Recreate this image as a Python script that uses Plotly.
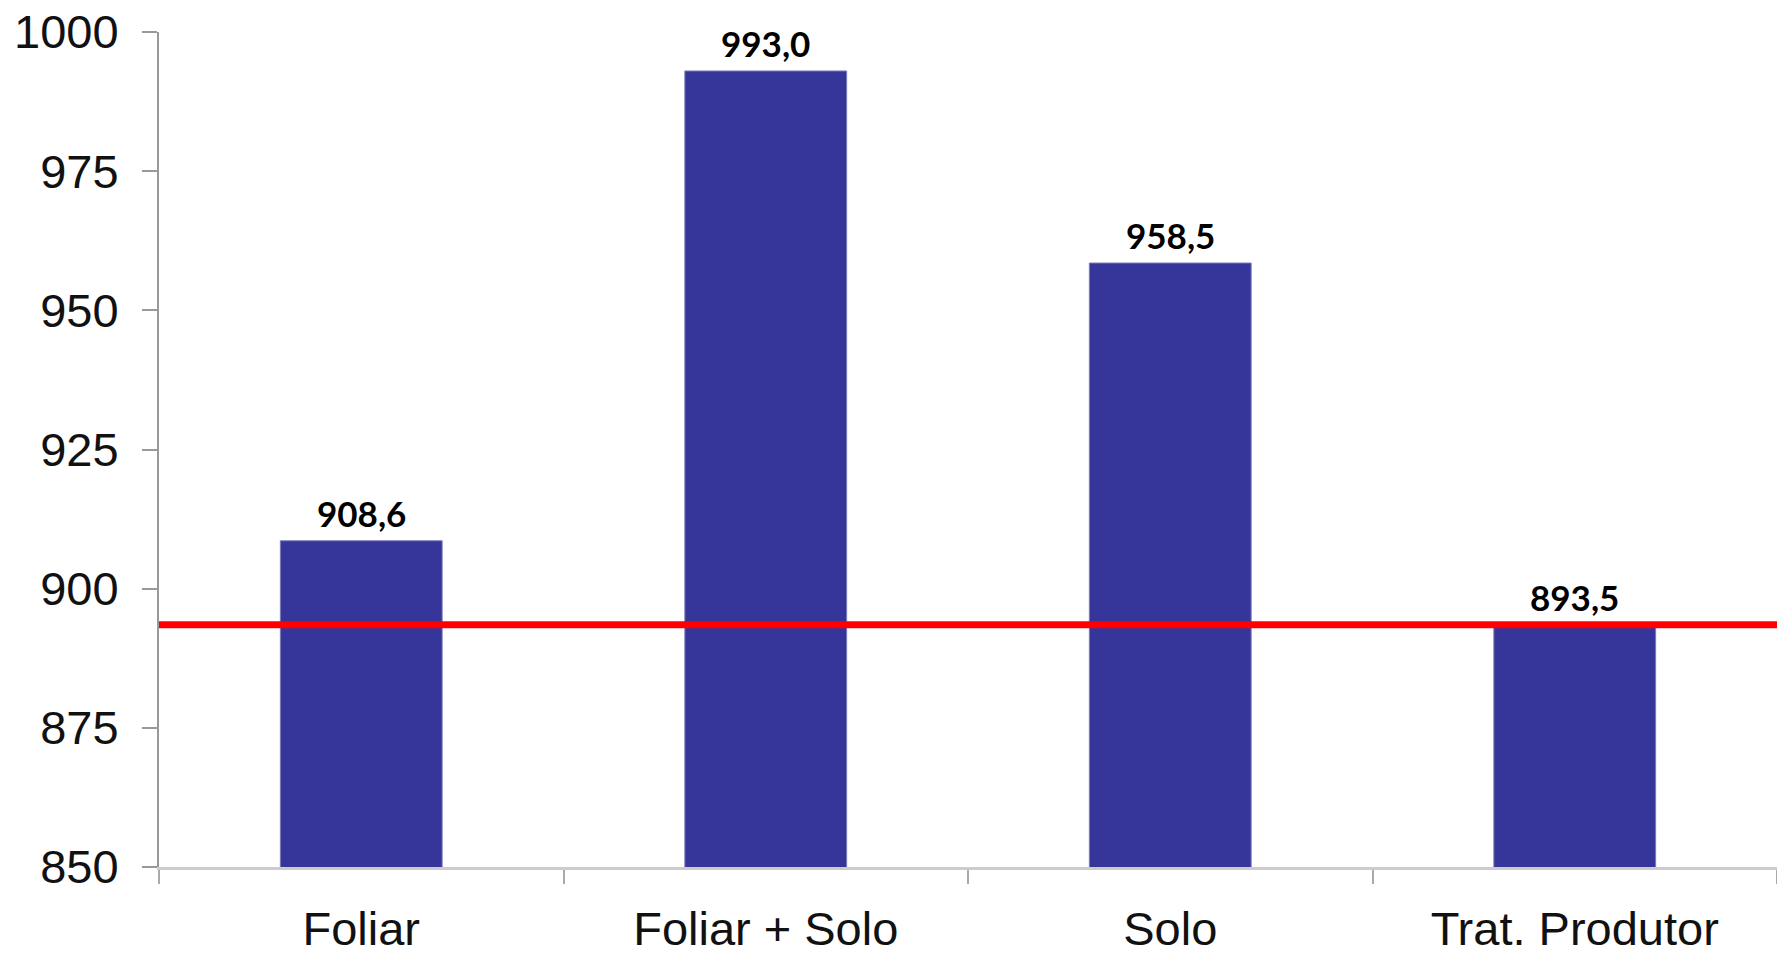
import plotly.graph_objects as go

categories = ["Foliar", "Foliar + Solo", "Solo", "Trat. Produtor"]
values = [908.6, 993.0, 958.5, 893.5]
value_labels = ["908,6", "993,0", "958,5", "893,5"]
reference_value = 893.5
y_ticks = [850, 875, 900, 925, 950, 975, 1000]

fig = go.Figure()
fig.add_trace(go.Bar(
    x=categories, y=values, width=0.4,
    marker=dict(color="#36369A", line=dict(color="#7a7ab8", width=1)),
))

for c, v, t in zip(categories, values, value_labels):
    fig.add_annotation(x=c, y=v, text=f"<b>{t}</b>", showarrow=False,
                       yanchor="bottom", yshift=5,
                       font=dict(family="Lato", size=35, color="#000000"))

fig.add_shape(type="line", xref="paper", x0=0, x1=1, yref="y",
              y0=reference_value, y1=reference_value,
              line=dict(color="#FF0000", width=7), layer="above")

fig.update_layout(
    width=1777, height=955,
    margin=dict(l=159, r=0, t=32, b=88, pad=0),
    paper_bgcolor="white", plot_bgcolor="white",
    showlegend=False, bargap=0.6,
)
fig.update_yaxes(range=[850, 1000], tickvals=y_ticks,
                 ticktext=[str(t) for t in y_ticks],
                 showgrid=False, zeroline=False, automargin=False,
                 showline=True, linecolor="#999999", linewidth=2,
                 ticks="outside", ticklen=15, tickcolor="#999999", tickwidth=2,
                 ticklabelstandoff=14, ticklabeloverflow="allow",
                 tickfont=dict(family="Liberation Sans", size=47, color="#111111"))
fig.update_xaxes(showgrid=False, zeroline=False, automargin=False,
                 showline=True, linecolor="#cccccc", linewidth=3,
                 ticks="outside", tickson="boundaries", ticklen=14,
                 tickcolor="#aaaaaa", tickwidth=2,
                 ticklabelstandoff=19, ticklabeloverflow="allow",
                 tickfont=dict(family="Liberation Sans", size=47, color="#111111"))

fig.write_html("out.html",
               config={"displayModeBar": False},
               post_script="document.body.style.margin='0';document.body.style.overflow='hidden';")
